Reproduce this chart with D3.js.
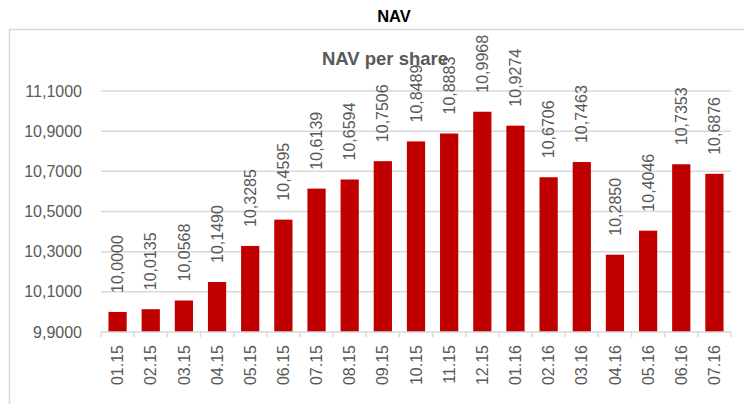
<!DOCTYPE html>
<html lang="en">
<head>
    <meta charset="UTF-8">
    <title>NAV</title>
    <script src="https://cdn.jsdelivr.net/npm/d3@7/dist/d3.min.js"></script>
    <style>
        body { margin: 0; background: #fff; }
    </style>
</head>
<body>
<div id="mainContent"></div>
<script>
    // data
    const months = ["01.15", "02.15", "03.15", "04.15", "05.15", "06.15", "07.15", "08.15", "09.15",
        "10.15", "11.15", "12.15", "01.16", "02.16", "03.16", "04.16", "05.16", "06.16", "07.16"];
    const navValues = [10.0000, 10.0135, 10.0568, 10.1490, 10.3285, 10.4595, 10.6139, 10.6594, 10.7506,
        10.8489, 10.8883, 10.9968, 10.9274, 10.6706, 10.7463, 10.2850, 10.4046, 10.7353, 10.6876];
    const yTicks = [9.9, 10.1, 10.3, 10.5, 10.7, 10.9, 11.1];

    const W = 744, H = 404;
    const plot = {left: 101, right: 731, top: 91, bottom: 332};
    const gridColor = "#d9d9d9";
    const textColor = "#595959";
    const font = "'Liberation Sans', Arial, sans-serif";

    const fmt = v => d3.format(".4f")(v).replace(".", ",");

    let svg = d3.select("#mainContent").append("svg")
        .attr("width", W)
        .attr("height", H)
        .style("font-family", font);

    // outer frame (only top and left edges visible)
    svg.append("path")
        .attr("d", "M9.5," + H + "V29.5H" + W)
        .attr("fill", "none")
        .attr("stroke", gridColor)
        .attr("stroke-width", 1.5);

    svg.append("text").text("NAV")
        .attr("x", 394).attr("y", 22)
        .attr("text-anchor", "middle")
        .attr("font-size", 16.5)
        .attr("font-weight", "bold")
        .attr("fill", "#000");

    let xScale = d3.scaleBand()
        .domain(months)
        .range([plot.left, plot.right])
        .paddingInner(0.45)
        .paddingOuter(0.225);

    let yScale = d3.scaleLinear()
        .domain([9.9, 11.1])
        .range([plot.bottom, plot.top]);

    // gridlines
    svg.append("g").selectAll("line")
        .data(yTicks.slice(1)).enter()
        .append("line")
        .attr("x1", plot.left).attr("x2", plot.right)
        .attr("y1", d => yScale(d)).attr("y2", d => yScale(d))
        .attr("stroke", gridColor)
        .attr("stroke-width", 1.5);

    // y axis labels
    const yAxis = d3.axisLeft(yScale).tickValues(yTicks).tickFormat(fmt).tickSize(0).tickPadding(19);
    const yAxisG = svg.append("g")
        .attr("transform", "translate(" + plot.left + ",0)")
        .call(yAxis);
    yAxisG.select(".domain").remove();
    yAxisG.selectAll(".tick text")
        .attr("fill", textColor)
        .attr("font-size", 16)
        .attr("font-family", font);

    // bars
    svg.append("g").selectAll("rect")
        .data(navValues).enter()
        .append("rect")
        .attr("x", (d, i) => xScale(months[i]))
        .attr("width", xScale.bandwidth())
        .attr("y", d => yScale(d))
        .attr("height", d => yScale(9.9) - yScale(d))
        .attr("fill", "#c00000");

    // x axis with ticks at category boundaries
    const xAxisG = svg.append("g").attr("transform", "translate(0," + plot.bottom + ")");
    xAxisG.append("line")
        .attr("x1", plot.left).attr("x2", plot.right)
        .attr("stroke", gridColor).attr("stroke-width", 1.5);
    const step = xScale.step();
    xAxisG.selectAll(".sep")
        .data(d3.range(months.length + 1)).enter()
        .append("line")
        .attr("class", "sep")
        .attr("x1", i => plot.left + i * (plot.right - plot.left) / months.length)
        .attr("x2", i => plot.left + i * (plot.right - plot.left) / months.length)
        .attr("y1", 0).attr("y2", 5)
        .attr("stroke", gridColor).attr("stroke-width", 1.5);
    xAxisG.selectAll(".lbl")
        .data(months).enter()
        .append("text")
        .attr("class", "lbl")
        .text(d => d)
        .attr("transform", d => "translate(" + (xScale(d) + xScale.bandwidth() / 2) + ",13) rotate(-90)")
        .attr("dy", "0.35em")
        .attr("text-anchor", "end")
        .attr("font-size", 16)
        .attr("fill", textColor);

    // subtitle
    svg.append("text").text("NAV per share")
        .attr("x", 385).attr("y", 65)
        .attr("text-anchor", "middle")
        .attr("font-size", 18.5)
        .attr("font-weight", "bold")
        .attr("fill", textColor);

    // value labels
    svg.append("g").selectAll("text")
        .data(navValues).enter()
        .append("text")
        .text(d => fmt(d))
        .attr("transform", (d, i) => "translate(" + (xScale(months[i]) + xScale.bandwidth() / 2) + "," + (yScale(d) - 19) + ") rotate(-90)")
        .attr("dy", "0.35em")
        .attr("text-anchor", "start")
        .attr("font-size", 16)
        .attr("fill", textColor);
</script>
</body>
</html>
